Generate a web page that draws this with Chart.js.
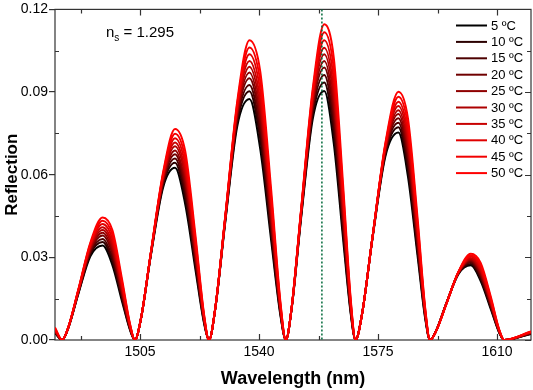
<!DOCTYPE html>
<html><head><meta charset="utf-8">
<script src="https://cdn.jsdelivr.net/npm/chart.js@4/dist/chart.umd.min.js"></script>
<style>html,body{margin:0;padding:0;background:#fff}#wrap{width:533px;height:390px}canvas{display:block}</style>
</head><body><div id="wrap"><canvas id="c" width="533" height="390"></canvas></div>
<script>
// Wavelength samples (nm)
const wavelength = [1480,
  1482.1, 1483.9, 1486.9, 1490.4, 1494.0, 1496.9, 1499.7, 1502.1,
  1503.5, 1505.3, 1508.2, 1511.8, 1515.3, 1518.3, 1521.3, 1523.8,
  1525.3, 1527.1, 1530.1, 1533.6, 1537.2, 1540.4, 1543.6, 1546.3,
  1547.9, 1549.6, 1552.4, 1555.8, 1559.2, 1562.0, 1564.7, 1567.0,
  1568.4, 1570.3, 1573.4, 1577.2, 1581.0, 1583.8, 1586.6, 1588.9,
  1590.3, 1592.1, 1595.1, 1598.7, 1602.3, 1605.2, 1608.2, 1610.6,
  1612.1, 1620];

// Reflection values for each temperature
const r5  = [.0025, 0,.0043,.0169,.0304,.0343,.0271,.0141,.0035, 0,.0078,.0307,.0554,.0625,.0493,.0256,.0063, 0,.0109,.0430,.0776,.0875,.0690,.0359,.0089, 0,.0113,.0444,.0802,.0904,.0713,.0371,.0092, 0,.0094,.0370,.0668,.0753,.0594,.0309,.0076, 0,.0034,.0133,.0240,.0271,.0214,.0111,.0028, 0,.0022];
const r10 = [.0027, 0,.0043,.0171,.0312,.0356,.0286,.0150,.0037, 0,.0078,.0310,.0563,.0643,.0516,.0271,.0067, 0,.0110,.0435,.0790,.0903,.0725,.0380,.0095, 0,.0114,.0450,.0818,.0935,.0750,.0394,.0098, 0,.0094,.0372,.0676,.0772,.0619,.0325,.0081, 0,.0034,.0133,.0242,.0276,.0221,.0116,.0029, 0,.0023];
const r15 = [.0029, 0,.0044,.0174,.0318,.0367,.0299,.0158,.0039, 0,.0079,.0312,.0570,.0659,.0536,.0284,.0071, 0,.0111,.0438,.0801,.0926,.0754,.0399,.0100, 0,.0115,.0455,.0832,.0962,.0783,.0415,.0103, 0,.0094,.0373,.0683,.0789,.0642,.0340,.0085, 0,.0034,.0133,.0243,.0281,.0229,.0121,.0030, 0,.0024];
const r20 = [.0031, 0,.0044,.0176,.0324,.0379,.0313,.0167,.0042, 0,.0079,.0313,.0576,.0674,.0556,.0297,.0074, 0,.0111,.0441,.0812,.0950,.0784,.0419,.0105, 0,.0116,.0459,.0846,.0989,.0816,.0436,.0109, 0,.0094,.0374,.0688,.0805,.0664,.0355,.0089, 0,.0033,.0133,.0245,.0286,.0236,.0126,.0032, 0,.0025];
const r25 = [.0033, 0,.0045,.0178,.0329,.0389,.0325,.0175,.0044, 0,.0079,.0314,.0582,.0688,.0575,.0309,.0078, 0,.0111,.0444,.0821,.0971,.0812,.0436,.0109, 0,.0116,.0463,.0857,.1013,.0847,.0455,.0114, 0,.0094,.0375,.0694,.0820,.0685,.0369,.0092, 0,.0033,.0133,.0245,.0290,.0242,.0130,.0033, 0,.0026];
const r30 = [.0035, 0,.0045,.0179,.0334,.0399,.0338,.0183,.0046, 0,.0079,.0316,.0588,.0703,.0595,.0322,.0081, 0,.0112,.0446,.0830,.0992,.0840,.0455,.0114, 0,.0117,.0466,.0868,.1037,.0878,.0475,.0120, 0,.0094,.0375,.0698,.0834,.0706,.0382,.0096, 0,.0033,.0132,.0246,.0294,.0249,.0135,.0034, 0,.0027];
const r35 = [.0037, 0,.0045,.0181,.0339,.0409,.0351,.0191,.0048, 0,.0079,.0317,.0593,.0717,.0614,.0335,.0085, 0,.0112,.0447,.0838,.1013,.0868,.0473,.0119, 0,.0117,.0469,.0878,.1061,.0909,.0496,.0125, 0,.0094,.0375,.0703,.0849,.0728,.0397,.0100, 0,.0033,.0132,.0247,.0298,.0255,.0139,.0035, 0,.0028];
const r40 = [.0039, 0,.0045,.0182,.0344,.0421,.0366,.0201,.0051, 0,.0079,.0317,.0598,.0732,.0636,.0349,.0088, 0,.0112,.0449,.0848,.1037,.0901,.0494,.0125, 0,.0117,.0471,.0889,.1088,.0945,.0519,.0131, 0,.0093,.0375,.0707,.0865,.0751,.0412,.0104, 0,.0033,.0131,.0248,.0303,.0263,.0144,.0037, 0,.0029];
const r45 = [.0042, 0,.0046,.0184,.0349,.0433,.0382,.0211,.0054, 0,.0079,.0318,.0604,.0749,.0660,.0365,.0093, 0,.0112,.0450,.0857,.1062,.0936,.0517,.0131, 0,.0118,.0474,.0901,.1117,.0984,.0544,.0138, 0,.0093,.0375,.0712,.0883,.0778,.0430,.0109, 0,.0032,.0131,.0248,.0308,.0271,.0150,.0038, 0,.0030];
const r50 = [.0045, 0,.0046,.0185,.0354,.0445,.0398,.0222,.0056, 0,.0079,.0318,.0609,.0766,.0685,.0381,.0097, 0,.0112,.0452,.0866,.1088,.0972,.0542,.0138, 0,.0118,.0476,.0912,.1146,.1024,.0570,.0145, 0,.0093,.0374,.0717,.0901,.0805,.0448,.0114, 0,.0032,.0130,.0249,.0313,.0280,.0156,.0040, 0,.0031];

const seriesValues = [r5, r10, r15, r20, r25, r30, r35, r40, r45, r50];
const seriesLabels = ['5 ºC','10 ºC','15 ºC','20 ºC','25 ºC','30 ºC','35 ºC','40 ºC','45 ºC','50 ºC'];
const seriesColors = ['#000000','#2b0000','#4d0000','#700000','#8f0000','#ad0000','#c80000','#e00000','#f20000','#ff0000'];

const xTickValues = [1505, 1540, 1575, 1610];
const xMinorTicks = [1487.5, 1522.5, 1557.5, 1592.5];
const yTickValues = [0, 0.03, 0.06, 0.09, 0.12];
const yMinorTicks = [0.015, 0.045, 0.075, 0.105];
const markerWavelength = 1558.5;
const annotationText = { base: 'n', sub: 's', rest: ' = 1.295' };

const FONT = '"Liberation Sans", Arial, sans-serif';

const decor = {
  id: 'decor',
  beforeDatasetsDraw(chart) {
    const { ctx, chartArea: a, scales: { x, y } } = chart;
    ctx.save();
    ctx.strokeStyle = '#333';
    ctx.lineWidth = 1.2;
    ctx.strokeRect(a.left, a.top, a.right - a.left, a.bottom - a.top);
    ctx.beginPath();
    xTickValues.forEach(v => { const p = Math.round(x.getPixelForValue(v)) + 0.5;
      ctx.moveTo(p, a.bottom); ctx.lineTo(p, a.bottom - 6);
      ctx.moveTo(p, a.top); ctx.lineTo(p, a.top + 6); });
    xMinorTicks.forEach(v => { const p = Math.round(x.getPixelForValue(v)) + 0.5;
      ctx.moveTo(p, a.bottom); ctx.lineTo(p, a.bottom - 4);
      ctx.moveTo(p, a.top); ctx.lineTo(p, a.top + 4); });
    yTickValues.forEach(v => { const p = Math.round(y.getPixelForValue(v)) + 0.5;
      ctx.moveTo(a.right, p); ctx.lineTo(a.right - 6, p); });
    yMinorTicks.forEach(v => { const p = Math.round(y.getPixelForValue(v)) + 0.5;
      ctx.moveTo(a.left, p); ctx.lineTo(a.left + 4, p);
      ctx.moveTo(a.right, p); ctx.lineTo(a.right - 4, p); });
    ctx.stroke();
    ctx.restore();
  },
  afterDatasetsDraw(chart) {
    const { ctx, chartArea: a, scales: { x } } = chart;
    ctx.save();
    const mx = x.getPixelForValue(markerWavelength);
    ctx.strokeStyle = '#00693a';
    ctx.lineWidth = 1.5;
    ctx.setLineDash([2, 2]);
    ctx.beginPath(); ctx.moveTo(mx, a.top); ctx.lineTo(mx, a.bottom); ctx.stroke();
    ctx.setLineDash([]);
    ctx.fillStyle = '#000';
    ctx.textBaseline = 'alphabetic';
    ctx.textAlign = 'left';
    ctx.font = '15px ' + FONT;
    let tx = 106;
    ctx.fillText(annotationText.base, tx, 37);
    tx += ctx.measureText(annotationText.base).width;
    ctx.font = '10px ' + FONT;
    ctx.fillText(annotationText.sub, tx, 41);
    tx += ctx.measureText(annotationText.sub).width;
    ctx.font = '15px ' + FONT;
    ctx.fillText(annotationText.rest, tx, 37);
    ctx.font = '13px ' + FONT;
    ctx.textBaseline = 'middle';
    seriesLabels.forEach((lab, i) => {
      const ly = 25.5 + i * 16.4;
      ctx.strokeStyle = seriesColors[i];
      ctx.lineWidth = 2;
      ctx.beginPath(); ctx.moveTo(456, ly); ctx.lineTo(487, ly); ctx.stroke();
      ctx.fillStyle = '#000';
      ctx.fillText(lab, 491, ly + 0.5);
    });
    ctx.restore();
  }
};

const datasets = seriesValues.map((vals, i) => ({
  label: seriesLabels[i],
  data: wavelength.map((w, k) => ({ x: w, y: vals[k] })),
  borderColor: seriesColors[i],
  backgroundColor: seriesColors[i],
  borderWidth: 2,
  pointRadius: 0,
  fill: false,
  cubicInterpolationMode: 'monotone',
  order: seriesValues.length - 1 - i
}));

new Chart(document.getElementById('c'), {
  type: 'line',
  data: { datasets },
  plugins: [decor],
  options: {
    responsive: false,
    animation: false,
    devicePixelRatio: 1,
    layout: { padding: { top: 8, right: 2, left: 0, bottom: 0 } },
    plugins: { legend: { display: false }, tooltip: { enabled: false } },
    scales: {
      x: {
        type: 'linear', min: 1480, max: 1620,
        afterBuildTicks: s => { s.ticks = xTickValues.map(v => ({ value: v })); },
        afterFit: s => { s.height = 50; },
        ticks: { color: '#000', font: { family: FONT, size: 14 }, padding: 4, maxRotation: 0, autoSkip: false, callback: v => String(v) },
        grid: { display: false, drawTicks: false },
        border: { display: false },
        title: { display: true, text: 'Wavelength (nm)', color: '#000', font: { family: FONT, size: 18, weight: 'bold' }, padding: { top: 1, bottom: 0 } }
      },
      y: {
        type: 'linear', min: 0, max: 0.12,
        afterBuildTicks: s => { s.ticks = yTickValues.map(v => ({ value: v })); },
        afterFit: s => { s.width = 55; },
        ticks: { color: '#000', font: { family: FONT, size: 14 }, padding: 1, callback: v => v.toFixed(2) },
        grid: { drawOnChartArea: false, drawTicks: true, tickLength: 6, color: '#333', lineWidth: 1.2 },
        border: { display: false },
        title: { display: true, text: 'Reflection', color: '#000', font: { family: FONT, size: 17, weight: 'bold' }, padding: { top: 2, bottom: 0 } }
      }
    }
  }
});
</script>
</body></html>
